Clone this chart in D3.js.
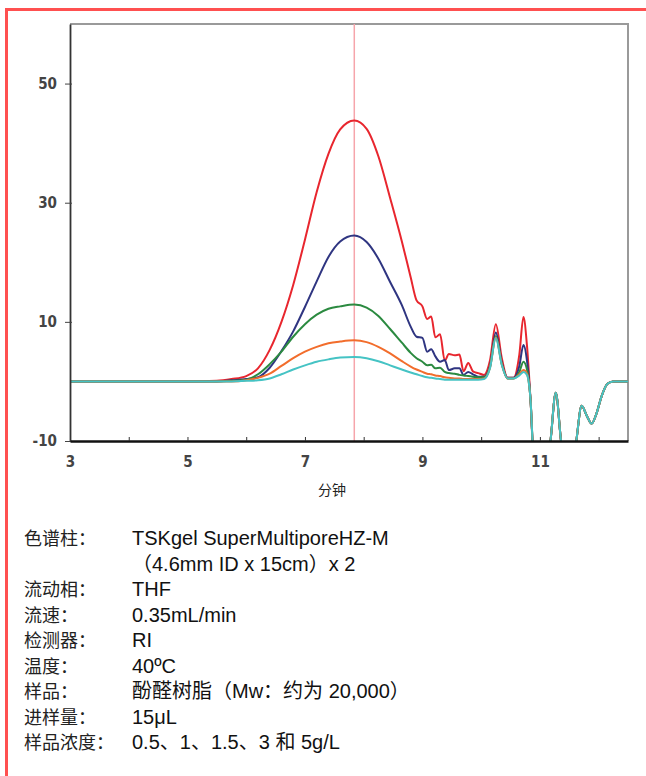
<!DOCTYPE html>
<html>
<head>
<meta charset="utf-8">
<script src="https://cdn.jsdelivr.net/npm/d3@7"></script>
<style>
  body { margin: 0; background: #fff; }
  svg { display: block; }
</style>
</head>
<body>
<div id="chart"></div>
<script>
// Chart constants
const WIDTH = 646;
const HEIGHT = 776;
const PLOT = { LEFT: 70, RIGHT: 628, TOP: 24, BOTTOM: 441 };

// retention time (min), shared by all series
const TIMES = [3.0, 5.0, 5.5, 5.75, 6.0, 6.2, 6.4, 6.6, 6.8, 7.0, 7.2, 7.4, 7.6, 7.84, 8.05, 8.25, 8.45, 8.65, 8.8, 8.9,
  9.0, 9.08, 9.15, 9.22, 9.3, 9.38, 9.45, 9.55, 9.63, 9.7, 9.78, 9.86, 9.95, 10.05, 10.15, 10.25, 10.35, 10.45, 10.55, 10.65,
  10.72, 10.78, 10.84, 10.9, 11.0, 11.1, 11.18, 11.27, 11.36, 11.45, 11.55, 11.62, 11.71, 11.8, 11.88, 11.96, 12.05, 12.15, 12.25, 12.5];

// solvent region after 10.84 min is the same for every concentration
const TAIL = [-3.0, -14, -16, -15, -10, -1.9, -10, -16, -15, -10, -4.1, -5.8, -7.1, -5.5, -2.5, -0.4, 0, 0];

const RED_5 = [0, 0, 0.1, 0.4, 0.9, 2.2, 5.3, 10.0, 16.2, 23.8, 31.8, 38.2, 42.3, 43.8, 42.4, 37.8, 30.8, 23.5, 17.5, 13.6,
  12.6, 10.5, 10.9, 7.4, 7.9, 3.5, 4.6, 4.4, 4.5, 1.7, 3.1, 1.7, 1.4, 1.1, 3.5, 9.6, 4.0, 0.6, 0.6, 4.5,
  10.8, 6.0, ...TAIL];
const NAVY_3 = [0, 0, 0, 0.2, 0.4, 0.7, 2.3, 5.1, 8.4, 12.5, 16.8, 20.9, 23.5, 24.5, 23.4, 20.6, 16.7, 12.8, 9.2, 7.5,
  7.3, 5.0, 5.4, 4.2, 3.3, 3.6, 1.9, 2.2, 2.2, 1.1, 1.6, 1.2, 0.8, 0.8, 2.6, 8.2, 3.2, 0.6, 0.6, 2.6,
  6.1, 3.5, ...TAIL];
const GREEN_15 = [0, 0, 0, 0.1, 0.3, 1.2, 2.9, 5.0, 7.5, 9.6, 11.2, 12.2, 12.6, 12.9, 12.4, 11.0, 8.8, 6.5, 4.8, 3.9,
  3.3, 2.7, 2.8, 2.2, 2.3, 1.6, 1.4, 1.3, 1.1, 1.0, 0.9, 0.8, 0.7, 0.7, 2.4, 7.6, 3.0, 0.5, 0.5, 1.6,
  3.3, 2.0, ...TAIL];
const ORANGE_1 = [0, 0, 0, 0, 0.2, 0.6, 1.3, 2.6, 3.9, 5.0, 5.8, 6.4, 6.7, 6.9, 6.6, 5.8, 4.7, 3.4, 2.5, 2.0,
  1.6, 1.3, 1.2, 1.0, 0.9, 0.7, 0.6, 0.5, 0.5, 0.4, 0.4, 0.4, 0.4, 0.5, 2.3, 7.4, 2.9, 0.5, 0.5, 1.2,
  1.9, 1.3, ...TAIL];
const CYAN_05 = [0, 0, 0, 0, 0.1, 0.2, 0.5, 1.2, 2.0, 2.7, 3.3, 3.7, 4.0, 4.1, 3.9, 3.4, 2.7, 2.0, 1.5, 1.2,
  0.9, 0.7, 0.6, 0.5, 0.4, 0.3, 0.3, 0.3, 0.3, 0.3, 0.3, 0.3, 0.3, 0.4, 2.2, 7.3, 2.8, 0.5, 0.5, 1.0,
  1.6, 1.1, ...TAIL];

const SERIES = [
  { name: "5g/L", values: RED_5, color: "#e8262e" },
  { name: "3g/L", values: NAVY_3, color: "#2f3581" },
  { name: "1.5g/L", values: GREEN_15, color: "#2b8a40" },
  { name: "1g/L", values: ORANGE_1, color: "#f26d2c" },
  { name: "0.5g/L", values: CYAN_05, color: "#45c3c4" }
];

const X_TICKS = [3, 4, 5, 6, 7, 8, 9, 10, 11, 12];
const Y_TICKS = [50, 30, 10, -10];
const MARKER_TIME = 7.84;
const X_TITLE = "分钟";

const CONDITIONS = [
  ["色谱柱：", "TSKgel SuperMultiporeHZ-M"],
  ["", "（4.6mm ID x 15cm）x 2"],
  ["流动相：", "THF"],
  ["流速：", "0.35mL/min"],
  ["检测器：", "RI"],
  ["温度：", "40ºC"],
  ["样品：", "酚醛树脂（Mw：约为 20,000）"],
  ["进样量：", "15μL"],
  ["样品浓度：", "0.5、1、1.5、3 和 5g/L"]
];

const svg = d3.select("#chart").append("svg").attr("width", WIDTH).attr("height", HEIGHT);

// red page frame (top and left edges visible)
svg.append("line").attr("x1", 5).attr("x2", WIDTH).attr("y1", 9.5).attr("y2", 9.5)
  .attr("stroke", "#ff5050").attr("stroke-width", 3);
svg.append("line").attr("x1", 6.5).attr("x2", 6.5).attr("y1", 8).attr("y2", HEIGHT)
  .attr("stroke", "#ff5050").attr("stroke-width", 3);

const x = d3.scaleLinear().domain([3, 12.5]).range([PLOT.LEFT, PLOT.RIGHT]);
const y = d3.scaleLinear().domain([-10, 60]).range([PLOT.BOTTOM, PLOT.TOP]);

svg.append("clipPath").attr("id", "plot-clip").append("rect")
  .attr("x", PLOT.LEFT).attr("y", PLOT.TOP)
  .attr("width", PLOT.RIGHT - PLOT.LEFT).attr("height", PLOT.BOTTOM - PLOT.TOP);

// top & right frame of the plot
svg.append("path")
  .attr("d", `M${PLOT.LEFT},${PLOT.TOP}H${PLOT.RIGHT}V${PLOT.BOTTOM}`)
  .attr("fill", "none").attr("stroke", "#9a9a9a").attr("stroke-width", 2);

// marker line at peak top
svg.append("line")
  .attr("x1", x(MARKER_TIME)).attr("x2", x(MARKER_TIME))
  .attr("y1", PLOT.TOP).attr("y2", PLOT.BOTTOM)
  .attr("stroke", "#f6a5ab").attr("stroke-width", 1.5);

const line = d3.line()
  .x((d, i) => x(TIMES[i]))
  .y((d) => y(d))
  .curve(d3.curveMonotoneX);

svg.append("g").attr("clip-path", "url(#plot-clip)")
  .selectAll("path")
  .data(SERIES)
  .enter()
  .append("path")
  .attr("d", (s) => line(s.values))
  .attr("fill", "none")
  .attr("stroke", (s) => s.color)
  .attr("stroke-width", 2)
  .attr("stroke-linejoin", "round");

const tickFont = "'Liberation Sans Narrow', 'DejaVu Sans Condensed', Arial, sans-serif";

// y axis
const yAxis = svg.append("g")
  .attr("transform", `translate(${PLOT.LEFT},0)`)
  .call(d3.axisLeft(y).tickValues(Y_TICKS).tickSizeInner(5).tickSizeOuter(0).tickPadding(8)
    .tickFormat((d) => (d < 0 ? "-" + Math.abs(d) : d)));
yAxis.select(".domain").attr("stroke", "#333").attr("stroke-width", 1.8);
yAxis.selectAll(".tick line").attr("x1", 2).attr("stroke", "#444");
yAxis.selectAll(".tick text").attr("font-family", tickFont).attr("font-size", 15)
  .attr("font-weight", "bold").attr("fill", "#444");

// x axis
const xAxis = svg.append("g")
  .attr("transform", `translate(0,${PLOT.BOTTOM})`)
  .call(d3.axisBottom(x).tickValues(X_TICKS).tickSizeInner(-4).tickSizeOuter(0).tickPadding(15)
    .tickFormat((d) => (d % 2 === 1 ? d : "")));
xAxis.select(".domain").attr("stroke", "#111").attr("stroke-width", 2.6);
xAxis.selectAll(".tick line").attr("stroke", "#333");
xAxis.selectAll(".tick text").attr("font-family", tickFont).attr("font-size", 15)
  .attr("font-weight", "bold").attr("fill", "#444");

svg.append("text")
  .attr("x", 332).attr("y", 495)
  .attr("text-anchor", "middle")
  .attr("font-family", "'Noto Sans CJK SC', sans-serif")
  .attr("font-size", 14)
  .attr("fill", "#222")
  .text(X_TITLE);

// experimental conditions
const rows = svg.append("g")
  .selectAll("g")
  .data(CONDITIONS)
  .enter()
  .append("g")
  .attr("transform", (d, i) => `translate(0,${545 + i * 25.5})`);

rows.append("text")
  .attr("x", 24)
  .attr("font-family", "'Noto Sans CJK SC', sans-serif")
  .attr("font-size", 18)
  .attr("fill", "#222")
  .text((d) => d[0]);

rows.append("text")
  .attr("x", 132)
  .attr("font-family", "'Liberation Sans', Arial, 'Noto Sans CJK SC', sans-serif")
  .attr("font-size", 20)
  .attr("fill", "#111")
  .text((d) => d[1]);
</script>
</body>
</html>
